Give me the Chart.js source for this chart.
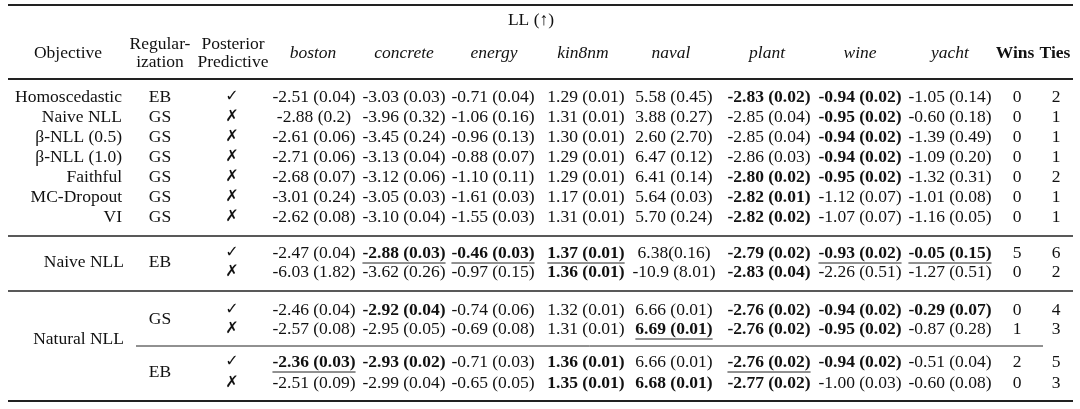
<!DOCTYPE html>
<html><head><meta charset="utf-8">
<script src="https://cdn.jsdelivr.net/npm/chart.js@4"></script>
<style>html,body{margin:0;background:#fff}canvas{display:block}</style>
</head><body><canvas id="c" width="1080" height="409"></canvas>
<script>
// ---- data ----
const datasets = ["boston","concrete","energy","kin8nm","naval","plant","wine","yacht"];
const objectives = ["Homoscedastic","Naive NLL","\u03B2-NLL (0.5)","\u03B2-NLL (1.0)","Faithful","MC-Dropout","VI","","","","","",""];
const groupLabels = [["Naive NLL",7,8],["Natural NLL",9,12]];
const regularization = ["EB","GS","GS","GS","GS","GS","GS","","","","","",""];
const regGroups = [["EB",7,8],["GS",9,10],["EB",11,12]];
const posterior = [true,false,false,false,false,false,false,true,false,true,false,true,false];
// "*" prefix = bold, "_" prefix = underlined
const boston   = ["-2.51 (0.04)","-2.88 (0.2)","-2.61 (0.06)","-2.71 (0.06)","-2.68 (0.07)","-3.01 (0.24)","-2.62 (0.08)","-2.47 (0.04)","-6.03 (1.82)","-2.46 (0.04)","-2.57 (0.08)","*_-2.36 (0.03)","-2.51 (0.09)"];
const concrete = ["-3.03 (0.03)","-3.96 (0.32)","-3.45 (0.24)","-3.13 (0.04)","-3.12 (0.06)","-3.05 (0.03)","-3.10 (0.04)","*_-2.88 (0.03)","-3.62 (0.26)","*-2.92 (0.04)","-2.95 (0.05)","*-2.93 (0.02)","-2.99 (0.04)"];
const energy   = ["-0.71 (0.04)","-1.06 (0.16)","-0.96 (0.13)","-0.88 (0.07)","-1.10 (0.11)","-1.61 (0.03)","-1.55 (0.03)","*_-0.46 (0.03)","-0.97 (0.15)","-0.74 (0.06)","-0.69 (0.08)","-0.71 (0.03)","-0.65 (0.05)"];
const kin8nm   = ["1.29 (0.01)","1.31 (0.01)","1.30 (0.01)","1.29 (0.01)","1.29 (0.01)","1.17 (0.01)","1.31 (0.01)","*_1.37 (0.01)","*1.36 (0.01)","1.32 (0.01)","1.31 (0.01)","*1.36 (0.01)","*1.35 (0.01)"];
const naval    = ["5.58 (0.45)","3.88 (0.27)","2.60 (2.70)","6.47 (0.12)","6.41 (0.14)","5.64 (0.03)","5.70 (0.24)","6.38(0.16)","-10.9 (8.01)","6.66 (0.01)","*_6.69 (0.01)","6.66 (0.01)","*6.68 (0.01)"];
const plant    = ["*-2.83 (0.02)","-2.85 (0.04)","-2.85 (0.04)","-2.86 (0.03)","*-2.80 (0.02)","*-2.82 (0.01)","*-2.82 (0.02)","*-2.79 (0.02)","*-2.83 (0.04)","*-2.76 (0.02)","*-2.76 (0.02)","*_-2.76 (0.02)","*-2.77 (0.02)"];
const wine     = ["*-0.94 (0.02)","*-0.95 (0.02)","*-0.94 (0.02)","*-0.94 (0.02)","*-0.95 (0.02)","-1.12 (0.07)","-1.07 (0.07)","*_-0.93 (0.02)","-2.26 (0.51)","*-0.94 (0.02)","*-0.95 (0.02)","*-0.94 (0.02)","-1.00 (0.03)"];
const yacht    = ["-1.05 (0.14)","-0.60 (0.18)","-1.39 (0.49)","-1.09 (0.20)","-1.32 (0.31)","-1.01 (0.08)","-1.16 (0.05)","*_-0.05 (0.15)","-1.27 (0.51)","*-0.29 (0.07)","-0.87 (0.28)","-0.51 (0.04)","-0.60 (0.08)"];
const wins = [0,0,0,0,0,0,0,5,0,0,1,2,0];
const ties = [2,1,1,1,2,1,1,6,2,4,3,5,3];
const valueCols = [boston,concrete,energy,kin8nm,naval,plant,wine,yacht];

// ---- layout (styles) ----
const colX = [314,404,493,586,674,769,860,950];
const headX = [313,404,494,583,671,767,860,950];
const rowY = [97,117,137,157,177,197,217,253,272,310,329,362,383];
const F = "'Liberation Serif','Times New Roman',serif";
const FS = '17.5px ';

const tablePlugin = {
  id:'table',
  afterDraw(chart){
    const ctx = chart.ctx;
    ctx.save();
    ctx.fillStyle='#111'; ctx.strokeStyle='#222'; ctx.textBaseline='middle';
    const rule=(y,w,x0=8,x1=1073)=>{ctx.lineWidth=w;ctx.beginPath();ctx.moveTo(x0,y);ctx.lineTo(x1,y);ctx.stroke();};
    rule(5,2); rule(79,2.2); rule(236,1.6); rule(291,1.6); rule(346,1,136,1043); rule(401,2.2);
    const txt=(s,x,y,align='center',font=FS+F)=>{ctx.font=font;ctx.textAlign=align;ctx.fillText(s,x,y);};
    txt('LL (\u2191)',531,20);
    txt('Objective',68,53);
    txt('Regular-',160,44); txt('ization',160,62);
    txt('Posterior',233,44); txt('Predictive',233,62);
    datasets.forEach((d,i)=>txt(d,headX[i],53,'center','italic '+FS+F));
    txt('Wins',1015,53,'center','bold '+FS+F); txt('Ties',1055,53,'center','bold '+FS+F);
    rowY.forEach((y,r)=>{
      if(objectives[r]) txt(objectives[r],122,y,'right');
      if(regularization[r]) txt(regularization[r],160,y);
      txt(posterior[r]?'\u2713':'\u2717',232,y,'center','bold 16px "DejaVu Sans"');
      valueCols.forEach((col,c)=>{
        let s=col[r], bold=false, ul=false;
        if(s[0]==='*'){bold=true;s=s.slice(1);} if(s[0]==='_'){ul=true;s=s.slice(1);}
        const font=(bold?'bold ':'')+FS+F;
        txt(s,colX[c],y,'center',font);
        if(ul){ctx.font=font;const w=ctx.measureText(s).width;ctx.lineWidth=1;ctx.beginPath();ctx.moveTo(colX[c]-w/2,y+10);ctx.lineTo(colX[c]+w/2,y+10);ctx.stroke();}
      });
      txt(String(wins[r]),1017,y); txt(String(ties[r]),1056,y);
    });
    groupLabels.forEach(([g,a,b])=>txt(g,124,(rowY[a]+rowY[b])/2+(g==='Natural NLL'?-7:0),'right'));
    regGroups.forEach(([g,a,b])=>txt(g,160,(rowY[a]+rowY[b])/2));
    ctx.restore();
  }
};

new Chart(document.getElementById('c'),{
  type:'scatter',
  data:{datasets:[{data:[]}]},
  options:{responsive:false,animation:false,devicePixelRatio:1,
    plugins:{legend:{display:false},tooltip:{enabled:false}},
    scales:{x:{display:false},y:{display:false}}},
  plugins:[tablePlugin]
});
</script></body></html>
